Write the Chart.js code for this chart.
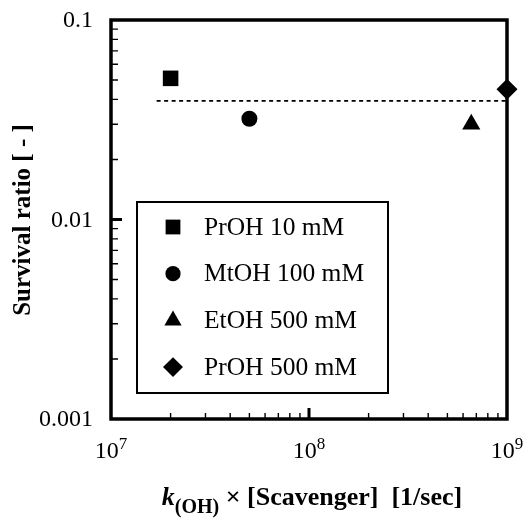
<!DOCTYPE html>
<html>
<head>
<meta charset="utf-8">
<script src="https://cdn.jsdelivr.net/npm/chart.js@4.4.1/dist/chart.umd.min.js"></script>
<style>
  html, body { margin: 0; padding: 0; background: #fff; }
  #wrap { width: 526px; height: 523px; }
</style>
</head>
<body>
<div id="wrap"><canvas id="survival_chart" width="526" height="523"></canvas></div>
<script>
// data
const seriesLabels = ['PrOH 10 mM', 'MtOH 100 mM', 'EtOH 500 mM', 'PrOH 500 mM'];
const pointShapes = ['rect', 'circle', 'triangle', 'rectRot'];
const pointSizes = [11, 8, 10.5, 10.5];
const scavengerRate = [2.0e7, 5.0e7, 6.6e8, 1.0e9];
const survivalRatio = [0.051, 0.032, 0.030, 0.045];
const meanLineX = [1.7e7, 1.0e9];
const meanLineY = [0.0393, 0.0393];

const xTickValues = [1e7, 1e8, 1e9];
const xTickExps = ['7', '8', '9'];
const yTickValues = [0.1, 0.01, 0.001];
const yTickLabels = ['0.1', '0.01', '0.001'];

const serif = '"Liberation Serif", "DejaVu Serif", serif';

const datasets = seriesLabels.map((name, i) => ({
  label: name,
  data: [{ x: scavengerRate[i], y: survivalRatio[i] }],
  pointStyle: pointShapes[i],
  pointRadius: pointSizes[i],
  pointHoverRadius: pointSizes[i],
  backgroundColor: '#000',
  borderColor: '#000',
  borderWidth: 0,
  showLine: false,
  clip: false
}));
datasets.unshift({
  label: 'mean',
  data: meanLineX.map((x, i) => ({ x: x, y: meanLineY[i] })),
  showLine: true,
  borderColor: '#000',
  borderWidth: 1.6,
  borderDash: [4, 3.5],
  pointRadius: 0,
  fill: false
});

// frame, inward log ticks, labels, legend
const framePlugin = {
  id: 'frame',
  beforeDatasetsDraw(chart) {
    const ctx = chart.ctx;
    const a = chart.chartArea;
    const xs = chart.scales.x, ys = chart.scales.y;
    ctx.save();
    ctx.strokeStyle = '#000';
    ctx.lineWidth = 3.5;
    ctx.strokeRect(a.left, a.top, a.right - a.left, a.bottom - a.top);

    ctx.lineWidth = 1.4;
    ctx.beginPath();
    for (let d = 7; d < 9; d++) {
      for (let k = 2; k <= 9; k++) {
        const px = xs.getPixelForValue(k * Math.pow(10, d));
        ctx.moveTo(px, a.bottom);
        ctx.lineTo(px, a.bottom - 6);
      }
    }
    for (let d = -3; d < -1; d++) {
      for (let k = 2; k <= 9; k++) {
        const py = ys.getPixelForValue(k * Math.pow(10, d));
        ctx.moveTo(a.left, py);
        ctx.lineTo(a.left + 7, py);
      }
    }
    ctx.stroke();
    ctx.lineWidth = 3;
    ctx.beginPath();
    const mx = xs.getPixelForValue(1e8);
    ctx.moveTo(mx, a.bottom);
    ctx.lineTo(mx, a.bottom - 11);
    const my = ys.getPixelForValue(0.01);
    ctx.moveTo(a.left, my);
    ctx.lineTo(a.left + 11, my);
    ctx.stroke();
    ctx.restore();
  },
  afterDraw(chart) {
    const ctx = chart.ctx;
    const a = chart.chartArea;
    const xs = chart.scales.x, ys = chart.scales.y;
    ctx.save();
    ctx.fillStyle = '#000';

    // y tick labels
    ctx.font = '24px ' + serif;
    ctx.textAlign = 'right';
    ctx.textBaseline = 'middle';
    yTickValues.forEach((v, i) => {
      ctx.fillText(yTickLabels[i], a.left - 18, ys.getPixelForValue(v) + 1);
    });

    // x tick labels with superscript
    ctx.textBaseline = 'alphabetic';
    ctx.textAlign = 'left';
    xTickValues.forEach((v, i) => {
      ctx.font = '24px ' + serif;
      const wb = ctx.measureText('10').width;
      ctx.font = '17px ' + serif;
      const we = ctx.measureText(xTickExps[i]).width;
      const px = xs.getPixelForValue(v);
      const x0 = px - (wb + we) / 2;
      ctx.font = '24px ' + serif;
      ctx.fillText('10', x0, 458);
      ctx.font = '17px ' + serif;
      ctx.fillText(xTickExps[i], x0 + wb, 449);
    });

    // x axis title
    const parts = [
      { t: 'k', f: 'italic bold 26px ' + serif, dy: 0 },
      { t: '(OH)', f: 'bold 20px ' + serif, dy: 8 },
      { t: ' \u00d7 [Scavenger]  [1/sec]', f: 'bold 26px ' + serif, dy: 0 }
    ];
    let total = 0;
    parts.forEach(p => { ctx.font = p.f; p.w = ctx.measureText(p.t).width; total += p.w; });
    let cx = 312 - total / 2;
    parts.forEach(p => {
      ctx.font = p.f;
      ctx.fillText(p.t, cx, 505 + p.dy);
      cx += p.w;
    });

    // y axis title
    ctx.translate(30, 220);
    ctx.rotate(-Math.PI / 2);
    ctx.font = 'bold 25px ' + serif;
    ctx.textAlign = 'center';
    ctx.textBaseline = 'alphabetic';
    ctx.fillText('Survival ratio [ - ]', 0, 0);
    ctx.restore();

    // legend box
    ctx.save();
    ctx.strokeStyle = '#000';
    ctx.lineWidth = 2;
    ctx.strokeRect(137, 202, 251, 191);
    ctx.font = '25.5px ' + serif;
    ctx.textAlign = 'left';
    ctx.textBaseline = 'middle';
    seriesLabels.forEach((name, i) => {
      const y = 227 + i * 46.7;
      drawShape(ctx, pointShapes[i], 173, y, pointSizes[i] * 0.95);
      ctx.fillStyle = '#000';
      ctx.fillText(name, 204, y + 1);
    });
    ctx.restore();
  }
};

function drawShape(ctx, shape, x, y, r) {
  ctx.fillStyle = '#000';
  ctx.beginPath();
  if (shape === 'rect') {
    const s = r * Math.SQRT1_2;
    ctx.rect(x - s, y - s, 2 * s, 2 * s);
  } else if (shape === 'circle') {
    ctx.arc(x, y, r, 0, Math.PI * 2);
  } else if (shape === 'triangle') {
    let rad = 0;
    ctx.moveTo(x + Math.sin(rad) * r, y - Math.cos(rad) * r);
    rad += Math.PI * 2 / 3;
    ctx.lineTo(x + Math.sin(rad) * r, y - Math.cos(rad) * r);
    rad += Math.PI * 2 / 3;
    ctx.lineTo(x + Math.sin(rad) * r, y - Math.cos(rad) * r);
  } else {
    ctx.moveTo(x, y - r);
    ctx.lineTo(x + r, y);
    ctx.lineTo(x, y + r);
    ctx.lineTo(x - r, y);
  }
  ctx.closePath();
  ctx.fill();
}

const ctv = document.getElementById('survival_chart');
const survival_chart = new Chart(ctv, {
  type: 'scatter',
  data: { datasets: datasets },
  options: {
    responsive: false,
    animation: false,
    devicePixelRatio: 1,
    layout: { padding: { left: 111, right: 19, top: 20, bottom: 104 } },
    plugins: { legend: { display: false }, tooltip: { enabled: false } },
    scales: {
      x: { type: 'logarithmic', min: 1e7, max: 1e9, display: false },
      y: { type: 'logarithmic', min: 0.001, max: 0.1, display: false }
    }
  },
  plugins: [framePlugin]
});
</script>
</body>
</html>
